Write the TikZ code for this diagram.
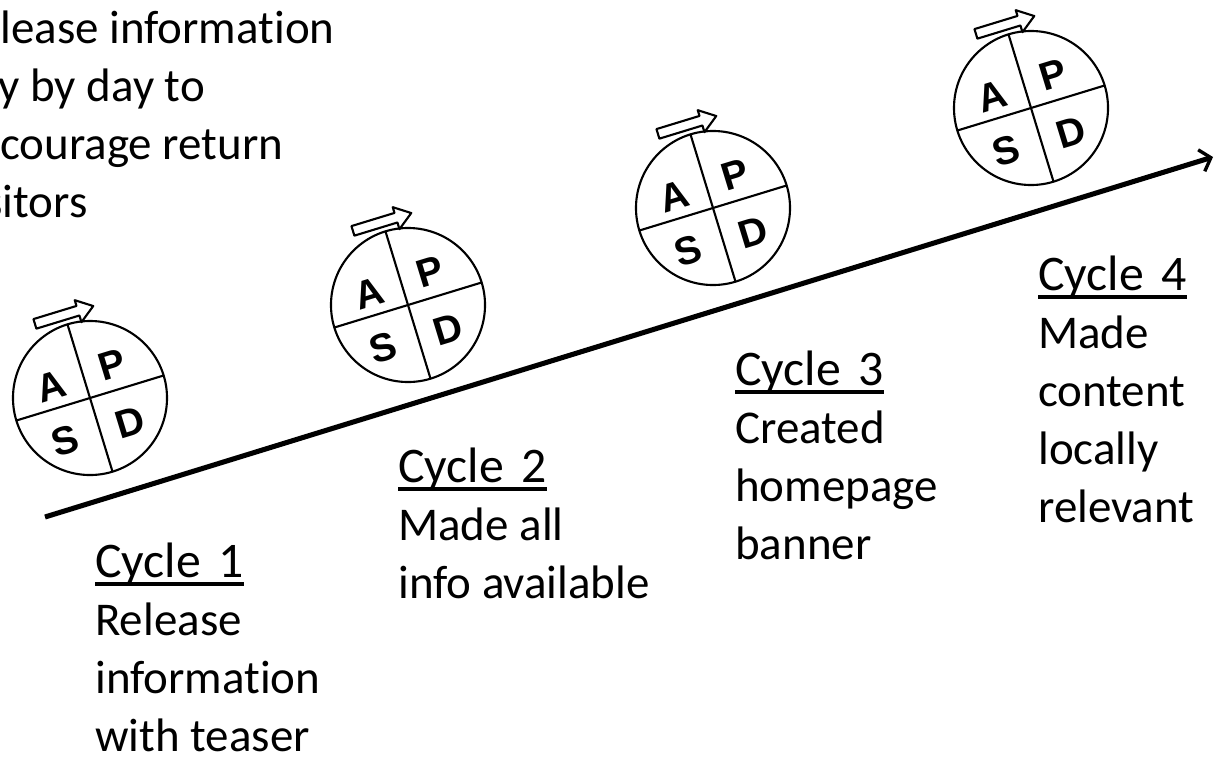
\documentclass[tikz,border=0pt]{standalone}
\usepackage{fontspec}
\setmainfont{Carlito}[Ligatures=NoCommon]
\newfontfamily\wheelfont{Liberation Sans}
\usetikzlibrary{arrows.meta}

\tikzset{
	wheel/.style={circle, draw, line width=1.5pt, minimum size=3.85cm, inner sep=0pt},
	wheel line/.style={line width=1.5pt, line join=round},
	letter/.style={font=\wheelfont\bfseries\fontsize{28}{28}\selectfont, rotate=17, inner sep=0pt},
	timeline/.style={line width=3.6pt, -{Straight Barb[length=7pt, width=16pt, line width=2.4pt]}},
	cycletext/.style={anchor=base west, inner sep=0pt, font=\fontsize{33.4}{41.3}\selectfont}
}

% underlined heading of a cycle
\newcommand{\cyclehead}[1]{\setbox0\hbox{\fontsize{35.4}{41.3}\selectfont Cycle\hspace{0.35em}#1}\rlap{\vrule width\wd0 height -3.9pt depth 6.1pt}\box0}

\newcommand{\pdcawheel}[3]{
	% the circle
	\node[wheel] (#1) at (#2,#3) {};
	\begin{scope}[shift={(#1.center)}, rotate=17]
		% cross
		\draw[wheel line] (0,-77) -- (0,77);
		\draw[wheel line] (-77,0) -- (77,0);
		% the four letters
		\node[letter] at (-34,-23) {A};
		\node[letter] at (31,-25) {P};
		\node[letter] at (-36,34) {S};
		\node[letter] at (31,35) {D};
		% hollow arrow on top
		\draw[wheel line] (-31,-82) -- (14,-82) -- (14,-75) -- (30,-87) -- (14,-98) -- (14,-92) -- (-31,-92) -- cycle;
	\end{scope}
}

\begin{document}
\begin{tikzpicture}[x=0.025cm, y=-0.025cm]
	\useasboundingbox (0,0) rectangle (1215,757);
	\clip (0,0) rectangle (1215,757);

	% the time line
	\coordinate (start) at (45,517);
	\coordinate (end) at (1213,157);
	\draw[timeline] (start) -- (end);

	% four wheels
	\pdcawheel{wheel1}{90}{398}
	\pdcawheel{wheel2}{408}{305}
	\pdcawheel{wheel3}{713}{208}
	\pdcawheel{wheel4}{1031}{108}

	% the texts
	\node[cycletext] (intro) at (-48,43) {\begin{tabular}[t]{@{}l@{}}Release information\\day by day to\\encourage return\\visitors\end{tabular}};
	\node[cycletext] (cycle1) at (95,577) {\begin{tabular}[t]{@{}l@{}}\cyclehead{1}\\Release\\information\\with teaser\end{tabular}};
	\node[cycletext] (cycle2) at (398,482) {\begin{tabular}[t]{@{}l@{}}\cyclehead{2}\\Made all\\info available\end{tabular}};
	\node[cycletext] (cycle3) at (735,385) {\begin{tabular}[t]{@{}l@{}}\cyclehead{3}\\Created\\homepage\\banner\end{tabular}};
	\node[cycletext] (cycle4) at (1038,290) {\begin{tabular}[t]{@{}l@{}}\cyclehead{4}\\Made\\content\\locally\\relevant\end{tabular}};
\end{tikzpicture}
\end{document}
